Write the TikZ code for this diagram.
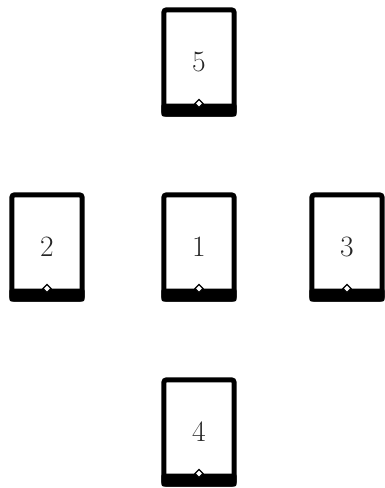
\documentclass[tikz,border=0pt]{standalone}
\usepackage{tikz}
\usetikzlibrary{calc}
\newcommand{\FD}{\fontsize{21}{24}\selectfont}

\begin{document}
\begin{tikzpicture}[x=0.025cm,y=-0.025cm]
\tikzstyle{card}=[draw=black,fill=white,line width=0.125cm,rounded corners=1.5pt,
  minimum width=1.75cm,minimum height=2.6cm,inner sep=0pt,font=\FD,text=black!85]
\tikzstyle{band}=[fill=black]
\tikzstyle{gem}=[draw=black,fill=white,line width=0.9pt]

\useasboundingbox (0,0) rectangle (384,488);

\node[card] (c5) at (199,62)  {5};
\node[card] (c2) at (47,247)  {2};
\node[card] (c1) at (199,247) {1};
\node[card] (c3) at (347,247) {3};
\node[card] (c4) at (199,432) {4};

% base strip with the little diamond
\foreach \c in {c1,c2,c3,c4,c5} {
  \fill[band,rounded corners=1.5pt] (\c.south west) rectangle ($(\c.south east)+(0,-13)$);
  \draw[gem] ($(\c.south)+(0,-17)$) -- ($(\c.south)+(4,-13)$)
    -- ($(\c.south)+(0,-9)$) -- ($(\c.south)+(-4,-13)$) -- cycle;
}
\end{tikzpicture}
\end{document}
